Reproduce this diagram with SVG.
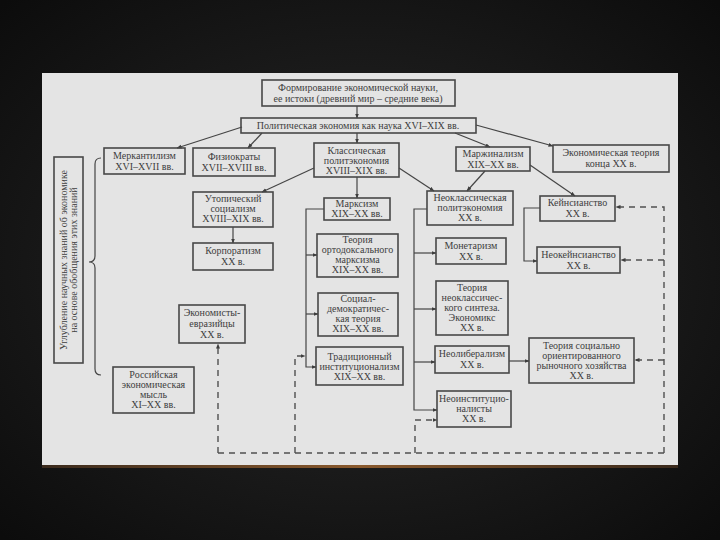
<svg xmlns="http://www.w3.org/2000/svg" width="720" height="540" viewBox="0 0 720 540">
<defs>
<radialGradient id="bg" cx="50%" cy="50%" r="70%">
<stop offset="0" stop-color="#2a2a2a"/>
<stop offset="1" stop-color="#0c0c0c"/>
</radialGradient>
<linearGradient id="strip" x1="0" y1="0" x2="1" y2="0">
<stop offset="0" stop-color="#3a2a1c"/>
<stop offset="0.5" stop-color="#8a5a2e"/>
<stop offset="1" stop-color="#3a2a1c"/>
</linearGradient>
<marker id="ah" viewBox="0 0 10 10" refX="9" refY="5" markerWidth="5" markerHeight="5" orient="auto" markerUnits="userSpaceOnUse">
<path d="M0,1 L10,5 L0,9 z" fill="#3e3e3e"/>
</marker>
</defs>
<style>
.box{fill:none;stroke:#484848;stroke-width:1.6}
.t{font-family:"Liberation Serif","DejaVu Serif",serif;font-size:10px;fill:#3e3e3e;text-anchor:middle}
.c{fill:none;stroke:#454545;stroke-width:1.2}
.d{fill:none;stroke:#505050;stroke-width:1.4;stroke-dasharray:6 5}
</style>
<rect x="0" y="0" width="720" height="540" fill="url(#bg)"/>
<rect x="42" y="73" width="636" height="393" fill="#e4e4e4"/>
<rect x="42" y="465" width="636" height="3" fill="url(#strip)"/>

<g id="connectors">
<path class="c" d="M357,106 V118" marker-end="url(#ah)"/>
<path class="c" d="M242,127 L177,148" marker-end="url(#ah)"/>
<path class="c" d="M262,133 L248,148" marker-end="url(#ah)"/>
<path class="c" d="M357,133 V143" marker-end="url(#ah)"/>
<path class="c" d="M455,133 L490,147" marker-end="url(#ah)"/>
<path class="c" d="M476,125 L553,146" marker-end="url(#ah)"/>
<path class="c" d="M314,168 L262,192" marker-end="url(#ah)"/>
<path class="c" d="M357,177 V198" marker-end="url(#ah)"/>
<path class="c" d="M399,168 L434,191" marker-end="url(#ah)"/>
<path class="c" d="M485,171 L467,191" marker-end="url(#ah)"/>
<path class="c" d="M530,165 L575,196" marker-end="url(#ah)"/>
<path class="c" d="M233,227 V243" marker-end="url(#ah)"/>
<path class="c" d="M324,209 H306 V367 H316" marker-end="url(#ah)"/>
<path class="c" d="M306,255 H317" marker-end="url(#ah)"/>
<path class="c" d="M306,314 H318" marker-end="url(#ah)"/>
<path class="c" d="M427,209 H414 V410 H437" marker-end="url(#ah)"/>
<path class="c" d="M414,253 H436" marker-end="url(#ah)"/>
<path class="c" d="M414,309 H436" marker-end="url(#ah)"/>
<path class="c" d="M414,362 H435" marker-end="url(#ah)"/>
<path class="c" d="M509,361 H529" marker-end="url(#ah)"/>
<path class="c" d="M540,208 H524 V261 H537" marker-end="url(#ah)"/>
<path class="c" d="M101,158 Q95,158 95,164 V256 Q95,262 89,262 Q95,262 95,268 V369 Q95,375 101,375"/>
<path class="d" d="M218,453 H664"/>
<path class="d" d="M218,453 V344" marker-end="url(#ah)"/>
<path class="d" d="M295,453 V356 H305" marker-end="url(#ah)"/>
<path class="d" d="M415,453 V420 H437" marker-end="url(#ah)"/>
<path class="d" d="M664,453 V207 H616" marker-end="url(#ah)"/>
<path class="d" d="M664,260 H621" marker-end="url(#ah)"/>
<path class="d" d="M664,360 H635" marker-end="url(#ah)"/>
</g>

<g id="n-origin"><rect class="box" x="262" y="80" width="193" height="26"/>
<text class="t" x="358" y="91">Формирование экономической науки,</text>
<text class="t" x="358" y="102">ее истоки (древний мир – средние века)</text></g>

<g id="n-polit"><rect class="box" x="241" y="118" width="235" height="15"/>
<text class="t" x="358" y="129">Политическая экономия как наука XVI–XIX вв.</text></g>

<g id="n-merk"><rect class="box" x="104" y="148" width="81" height="26"/>
<text class="t" x="144.5" y="159">Меркантилизм</text>
<text class="t" x="144.5" y="170">XVI–XVII вв.</text></g>

<g id="n-fizio"><rect class="box" x="193" y="148" width="82" height="28"/>
<text class="t" x="234" y="160">Физиократы</text>
<text class="t" x="234" y="171">XVII–XVIII вв.</text></g>

<g id="n-klass"><rect class="box" x="314" y="143" width="85" height="34"/>
<text class="t" x="356.5" y="154">Классическая</text>
<text class="t" x="356.5" y="164">политэкономия</text>
<text class="t" x="356.5" y="174">XVIII–XIX вв.</text></g>

<g id="n-marzh"><rect class="box" x="456" y="147" width="74" height="24"/>
<text class="t" x="493" y="157">Маржинализм</text>
<text class="t" x="493" y="168">XIX–XX вв.</text></g>

<g id="n-ekteor"><rect class="box" x="553" y="145" width="116" height="27"/>
<text class="t" x="611" y="156">Экономическая теория</text>
<text class="t" x="611" y="167">конца XX в.</text></g>

<g id="n-uglub"><rect class="box" x="54" y="157" width="29" height="206"/>
<g transform="translate(68.5,260) rotate(-90)">
<text class="t" x="0" y="-2">Углубление научных знаний об экономике</text>
<text class="t" x="0" y="8">на основе обобщения этих знаний</text></g></g>

<g id="n-utop"><rect class="box" x="193" y="192" width="80" height="35"/>
<text class="t" x="233" y="202">Утопический</text>
<text class="t" x="233" y="212">социализм</text>
<text class="t" x="233" y="222">XVIII–XIX вв.</text></g>

<g id="n-korp"><rect class="box" x="193" y="243" width="80" height="27"/>
<text class="t" x="233" y="254">Корпоратизм</text>
<text class="t" x="233" y="265">XX в.</text></g>

<g id="n-marks"><rect class="box" x="324" y="198" width="66" height="22"/>
<text class="t" x="357" y="207">Марксизм</text>
<text class="t" x="357" y="217">XIX–XX вв.</text></g>

<g id="n-orto"><rect class="box" x="317" y="234" width="81" height="43"/>
<text class="t" x="357.5" y="243">Теория</text>
<text class="t" x="357.5" y="253">ортодоксального</text>
<text class="t" x="357.5" y="263">марксизма</text>
<text class="t" x="357.5" y="273">XIX–XX вв.</text></g>

<g id="n-socdem"><rect class="box" x="318" y="293" width="80" height="43"/>
<text class="t" x="358" y="302">Социал-</text>
<text class="t" x="358" y="312">демократичес-</text>
<text class="t" x="358" y="322">кая теория</text>
<text class="t" x="358" y="332">XIX–XX вв.</text></g>

<g id="n-trad"><rect class="box" x="316" y="347" width="87" height="38"/>
<text class="t" x="359.5" y="360">Традиционный</text>
<text class="t" x="359.5" y="370">институционализм</text>
<text class="t" x="359.5" y="380">XIX–XX вв.</text></g>

<g id="n-neoklass"><rect class="box" x="427" y="191" width="86" height="34"/>
<text class="t" x="470" y="201">Неоклассическая</text>
<text class="t" x="470" y="211">политэкономия</text>
<text class="t" x="470" y="221">XX в.</text></g>

<g id="n-monet"><rect class="box" x="436" y="238" width="70" height="26"/>
<text class="t" x="471" y="249">Монетаризм</text>
<text class="t" x="471" y="260">XX в.</text></g>

<g id="n-sintez"><rect class="box" x="436" y="281" width="72" height="54"/>
<text class="t" x="472" y="291">Теория</text>
<text class="t" x="472" y="301">неоклассичес-</text>
<text class="t" x="472" y="311">кого синтеза.</text>
<text class="t" x="472" y="321">Экономикс</text>
<text class="t" x="472" y="331">XX в.</text></g>

<g id="n-neolib"><rect class="box" x="435" y="346" width="74" height="27"/>
<text class="t" x="472" y="357">Неолиберализм</text>
<text class="t" x="472" y="368">XX в.</text></g>

<g id="n-neoinst"><rect class="box" x="437" y="391" width="74" height="36"/>
<text class="t" x="474" y="402">Неоинституцио-</text>
<text class="t" x="474" y="412">налисты</text>
<text class="t" x="474" y="422">XX в.</text></g>

<g id="n-keyns"><rect class="box" x="540" y="196" width="75" height="25"/>
<text class="t" x="577.5" y="206">Кейнсианство</text>
<text class="t" x="577.5" y="217">XX в.</text></g>

<g id="n-neokeyns"><rect class="box" x="537" y="247" width="83" height="26"/>
<text class="t" x="578.5" y="258">Неокейнсианство</text>
<text class="t" x="578.5" y="269">XX в.</text></g>

<g id="n-sorh"><rect class="box" x="529" y="338" width="105" height="45"/>
<text class="t" x="581.5" y="349">Теория социально</text>
<text class="t" x="581.5" y="359">ориентированного</text>
<text class="t" x="581.5" y="369">рыночного хозяйства</text>
<text class="t" x="581.5" y="379">XX в.</text></g>

<g id="n-evraz"><rect class="box" x="179" y="305" width="66" height="38"/>
<text class="t" x="212" y="316">Экономисты-</text>
<text class="t" x="212" y="327">евразийцы</text>
<text class="t" x="212" y="338">XX в.</text></g>

<g id="n-ross"><rect class="box" x="113" y="367" width="81" height="46"/>
<text class="t" x="153.5" y="378">Российская</text>
<text class="t" x="153.5" y="388">экономическая</text>
<text class="t" x="153.5" y="398">мысль</text>
<text class="t" x="153.5" y="408">XI–XX вв.</text></g>
</svg>
